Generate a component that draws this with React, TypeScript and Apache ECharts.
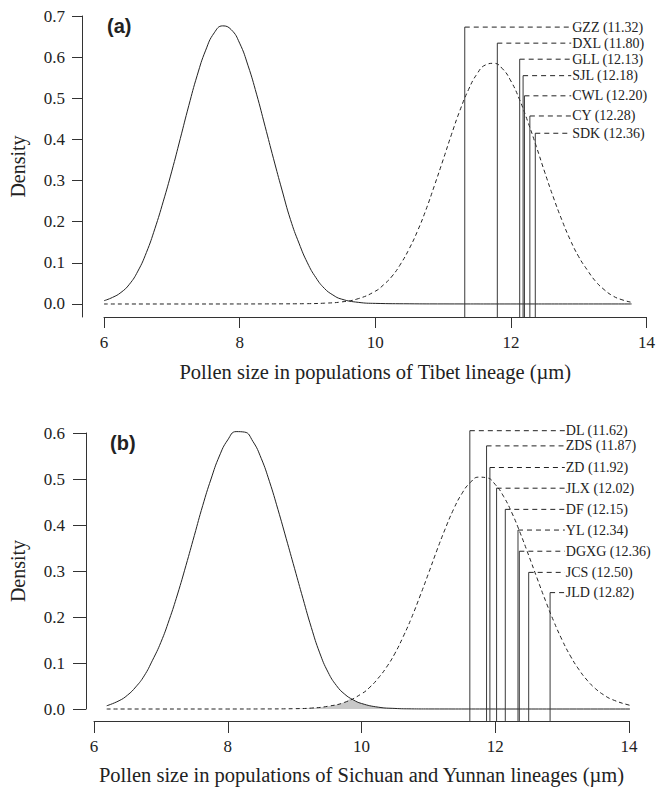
import React, { useEffect, useRef } from "react";
import * as echarts from "echarts";

// ---------- data ----------
// Panel (a): Tibet lineage
const xTicksA = [6, 8, 10, 12, 14];
const yTicksA = [0, 0.1, 0.2, 0.3, 0.4, 0.5, 0.6, 0.7];
const solidA: [number, number][] = [
  [6.0, 0.008], [6.125, 0.016], [6.25, 0.028], [6.375, 0.048], [6.5, 0.08], [6.625, 0.125],
  [6.75, 0.183], [6.875, 0.25], [7.0, 0.323], [7.125, 0.402], [7.25, 0.482], [7.375, 0.556],
  [7.5, 0.617], [7.625, 0.659], [7.75, 0.676], [7.875, 0.667], [8.0, 0.634], [8.125, 0.579],
  [8.25, 0.51], [8.375, 0.432], [8.5, 0.353], [8.625, 0.277], [8.75, 0.205], [8.875, 0.148],
  [9.0, 0.1], [9.125, 0.064], [9.25, 0.038], [9.375, 0.022], [9.5, 0.012], [9.75, 0.004],
  [10.0, 0.0015], [10.5, 0.0005], [11.0, 0.0002], [12.0, 0.0001], [13.0, 0.0001], [13.78, 0.0001],
];
const dashedA: [number, number][] = [
  [6.0, 0], [7.0, 0], [8.0, 0.0001], [8.5, 0.0003], [9.0, 0.0008], [9.25, 0.002],
  [9.5, 0.005], [9.75, 0.013], [10.0, 0.031], [10.125, 0.047], [10.25, 0.068], [10.375, 0.0975],
  [10.5, 0.134], [10.625, 0.178], [10.75, 0.23], [10.875, 0.289], [11.0, 0.35], [11.125, 0.4125],
  [11.25, 0.471], [11.375, 0.521], [11.5, 0.559], [11.625, 0.581], [11.75, 0.585], [11.875, 0.572],
  [12.0, 0.542], [12.125, 0.498], [12.25, 0.443], [12.375, 0.383], [12.5, 0.32], [12.625, 0.26],
  [12.75, 0.205], [12.875, 0.156], [13.0, 0.115], [13.125, 0.083], [13.25, 0.055], [13.375, 0.035],
  [13.5, 0.02], [13.625, 0.011], [13.78, 0.004],
];
const popNamesA = ["GZZ", "DXL", "GLL", "SJL", "CWL", "CY", "SDK"];
const popValuesA = [11.32, 11.8, 12.13, 12.18, 12.2, 12.28, 12.36];
const popLabelHeightsA = [0.673, 0.634, 0.595, 0.555, 0.506, 0.457, 0.415];
const labelXA = 12.89;
const yMinA = -0.0316;

// Panel (b): Sichuan and Yunnan lineages
const xTicksB = [6, 8, 10, 12, 14];
const yTicksB = [0, 0.1, 0.2, 0.3, 0.4, 0.5, 0.6];
const solidB: [number, number][] = [
  [6.19, 0.007], [6.375, 0.018], [6.5, 0.03], [6.625, 0.048], [6.75, 0.072], [6.875, 0.106],
  [7.0, 0.145], [7.125, 0.194], [7.25, 0.25], [7.375, 0.312], [7.5, 0.377], [7.625, 0.442],
  [7.75, 0.5], [7.875, 0.55], [8.0, 0.585], [8.125, 0.603], [8.25, 0.602], [8.375, 0.582],
  [8.5, 0.545], [8.625, 0.494], [8.75, 0.434], [8.875, 0.37], [9.0, 0.305], [9.125, 0.24],
  [9.25, 0.177], [9.375, 0.122], [9.5, 0.08], [9.625, 0.051], [9.75, 0.032], [9.875, 0.02],
  [10.0, 0.012], [10.25, 0.004], [10.5, 0.0012], [10.75, 0.0003], [11.0, 0.0001], [12.0, 0],
  [13.0, 0], [14.16, 0],
];
const dashedB: [number, number][] = [
  [6.19, 0], [7.0, 0], [8.0, 0], [8.5, 0.0001], [9.0, 0.0007], [9.25, 0.002], [9.5, 0.006],
  [9.75, 0.0146], [10.0, 0.033], [10.125, 0.0474], [10.25, 0.067], [10.375, 0.0911],
  [10.5, 0.121], [10.625, 0.1577], [10.75, 0.199], [10.875, 0.2455], [11.0, 0.294],
  [11.125, 0.344], [11.25, 0.391], [11.375, 0.4336], [11.5, 0.468], [11.625, 0.492],
  [11.75, 0.504], [11.875, 0.5026], [12.0, 0.488], [12.125, 0.462], [12.25, 0.426],
  [12.375, 0.382], [12.5, 0.334], [12.625, 0.2845], [12.75, 0.236], [12.875, 0.1906],
  [13.0, 0.15], [13.125, 0.1149], [13.25, 0.086], [13.375, 0.0624], [13.5, 0.044],
  [13.625, 0.0304], [13.75, 0.0205], [14.0, 0.0085], [14.16, 0.004],
];
const overlapB: [number, number][] = [
  [9.0, 0.0007], [9.25, 0.002], [9.5, 0.006], [9.75, 0.0146], [9.85, 0.022], [9.875, 0.02],
  [10.0, 0.012], [10.25, 0.004], [10.5, 0.0012], [10.75, 0.0003],
];
const popNamesB = ["DL", "ZDS", "ZD", "JLX", "DF", "YL", "DGXG", "JCS", "JLD"];
const popValuesB = [11.62, 11.87, 11.92, 12.02, 12.15, 12.34, 12.36, 12.5, 12.82];
const popLabelHeightsB = [0.605, 0.572, 0.525, 0.48, 0.434, 0.389, 0.343, 0.297, 0.253];
const labelXB = 13.04;
const yBaseB = -0.026;

const titleA = "Pollen size in populations of Tibet lineage (\u00b5m)";
const titleB = "Pollen size in populations of Sichuan and Yunnan lineages (\u00b5m)";

// ---------- styling ----------
const SERIF = "'Liberation Serif', 'Times New Roman', serif";
const INK = "#222";

function makeXAxis(gridIndex: number, ticks: number[], name: string, offset: number, tickLen: number, nameGap: number) {
  return {
    type: "value",
    gridIndex,
    min: ticks[0],
    max: ticks[ticks.length - 1],
    interval: 2,
    offset,
    axisLine: { show: true, onZero: false, lineStyle: { color: "#333", width: 1 } },
    axisTick: { show: true, length: tickLen, lineStyle: { color: "#333" } },
    axisLabel: { margin: 17, fontFamily: SERIF, fontSize: 17, color: INK },
    splitLine: { show: false },
    name,
    nameLocation: "middle",
    nameGap,
    nameTextStyle: { fontFamily: SERIF, fontSize: 20.5, color: INK },
  };
}

function popSeries(
  names: string[], values: number[], heights: number[], labelX: number,
  base: number, axisIndex: number
) {
  const out: any[] = [];
  names.forEach((n, i) => {
    out.push({
      type: "line",
      xAxisIndex: axisIndex,
      yAxisIndex: axisIndex,
      data: [[values[i], base], [values[i], heights[i]]],
      showSymbol: false,
      symbol: "none",
      clip: false,
      lineStyle: { color: "#3a3a3a", width: 1 },
      z: 3,
    });
    out.push({
      type: "line",
      xAxisIndex: axisIndex,
      yAxisIndex: axisIndex,
      data: [[values[i], heights[i]], [labelX, heights[i]]],
      showSymbol: false,
      symbol: "none",
      clip: false,
      lineStyle: { color: "#222", width: 1, type: [5, 4] },
      endLabel: {
        show: true,
        distance: 1,
        formatter: () => `${n} (${values[i].toFixed(2)})`,
        fontFamily: SERIF,
        fontSize: 14,
        color: INK,
      },
      z: 3,
    });
  });
  return out;
}

function curve(data: [number, number][], axisIndex: number, dashed: boolean) {
  return {
    type: "line",
    xAxisIndex: axisIndex,
    yAxisIndex: axisIndex,
    data,
    smooth: true,
    clip: false,
    showSymbol: false,
    symbol: "none",
    lineStyle: dashed ? { color: INK, width: 1, type: [4, 3] } : { color: INK, width: 1 },
    z: 2,
  };
}

export default function App() {
  const ref = useRef<HTMLDivElement>(null);

  useEffect(() => {
    if (!ref.current) return;
    const chart = echarts.init(ref.current, null, { renderer: "svg" });
    const option: any = {
      animation: false,
      backgroundColor: "#fff",
      grid: [
        { left: 104, top: 16, width: 548, height: 301 },
        { left: 94, top: 433, width: 535, height: 276 },
      ],
      xAxis: [
        makeXAxis(0, xTicksA, titleA, 0, 11, 44),
        makeXAxis(1, xTicksB, titleB, 12, 12, 43),
      ],
      yAxis: [
        {
          type: "value",
          gridIndex: 0,
          min: yMinA,
          max: yTicksA[yTicksA.length - 1],
          offset: 22,
          axisLine: { show: true, onZero: false, lineStyle: { color: "#333" } },
          axisTick: { show: true, length: 10, customValues: yTicksA, lineStyle: { color: "#333" } },
          axisLabel: {
            customValues: yTicksA,
            margin: 17,
            fontFamily: SERIF,
            fontSize: 17,
            color: INK,
            formatter: (v: number) => v.toFixed(1),
          },
          splitLine: { show: false },
          name: "Density",
          nameLocation: "middle",
          nameGap: 54,
          nameTextStyle: { fontFamily: SERIF, fontSize: 20, color: INK },
        },
        {
          type: "value",
          gridIndex: 1,
          min: yTicksB[0],
          max: yTicksB[yTicksB.length - 1],
          interval: 0.1,
          offset: 8,
          axisLine: { show: true, onZero: false, lineStyle: { color: "#333" } },
          axisTick: { show: true, length: 13, lineStyle: { color: "#333" } },
          axisLabel: {
            margin: 21,
            fontFamily: SERIF,
            fontSize: 17,
            color: INK,
            formatter: (v: number) => v.toFixed(1),
          },
          splitLine: { show: false },
          name: "Density",
          nameLocation: "middle",
          nameGap: 58,
          nameTextStyle: { fontFamily: SERIF, fontSize: 20, color: INK },
        },
      ],
      series: [
        {
          type: "line",
          xAxisIndex: 1,
          yAxisIndex: 1,
          data: overlapB,
          smooth: true,
          showSymbol: false,
          symbol: "none",
          lineStyle: { width: 0 },
          areaStyle: { color: "#c8c8c8", opacity: 1, origin: "start" },
          z: 1,
        },
        curve(solidA, 0, false),
        curve(dashedA, 0, true),
        curve(solidB, 1, false),
        curve(dashedB, 1, true),
        ...popSeries(popNamesA, popValuesA, popLabelHeightsA, labelXA, yMinA, 0),
        ...popSeries(popNamesB, popValuesB, popLabelHeightsB, labelXB, yBaseB, 1),
      ],
      graphic: [
        {
          type: "text",
          left: 107,
          top: 16,
          style: {
            text: "(a)",
            font: "bold 20px 'Liberation Sans', Arial, sans-serif",
            fill: INK,
          },
        },
        {
          type: "text",
          left: 110,
          top: 433,
          style: {
            text: "(b)",
            font: "bold 20px 'Liberation Sans', Arial, sans-serif",
            fill: INK,
          },
        },
      ],
    };
    chart.setOption(option);
    return () => chart.dispose();
  }, []);

  return (
    <div
      ref={ref}
      style={{ position: "fixed", left: 0, top: 0, width: 658, height: 790, background: "#fff" }}
    />
  );
}
